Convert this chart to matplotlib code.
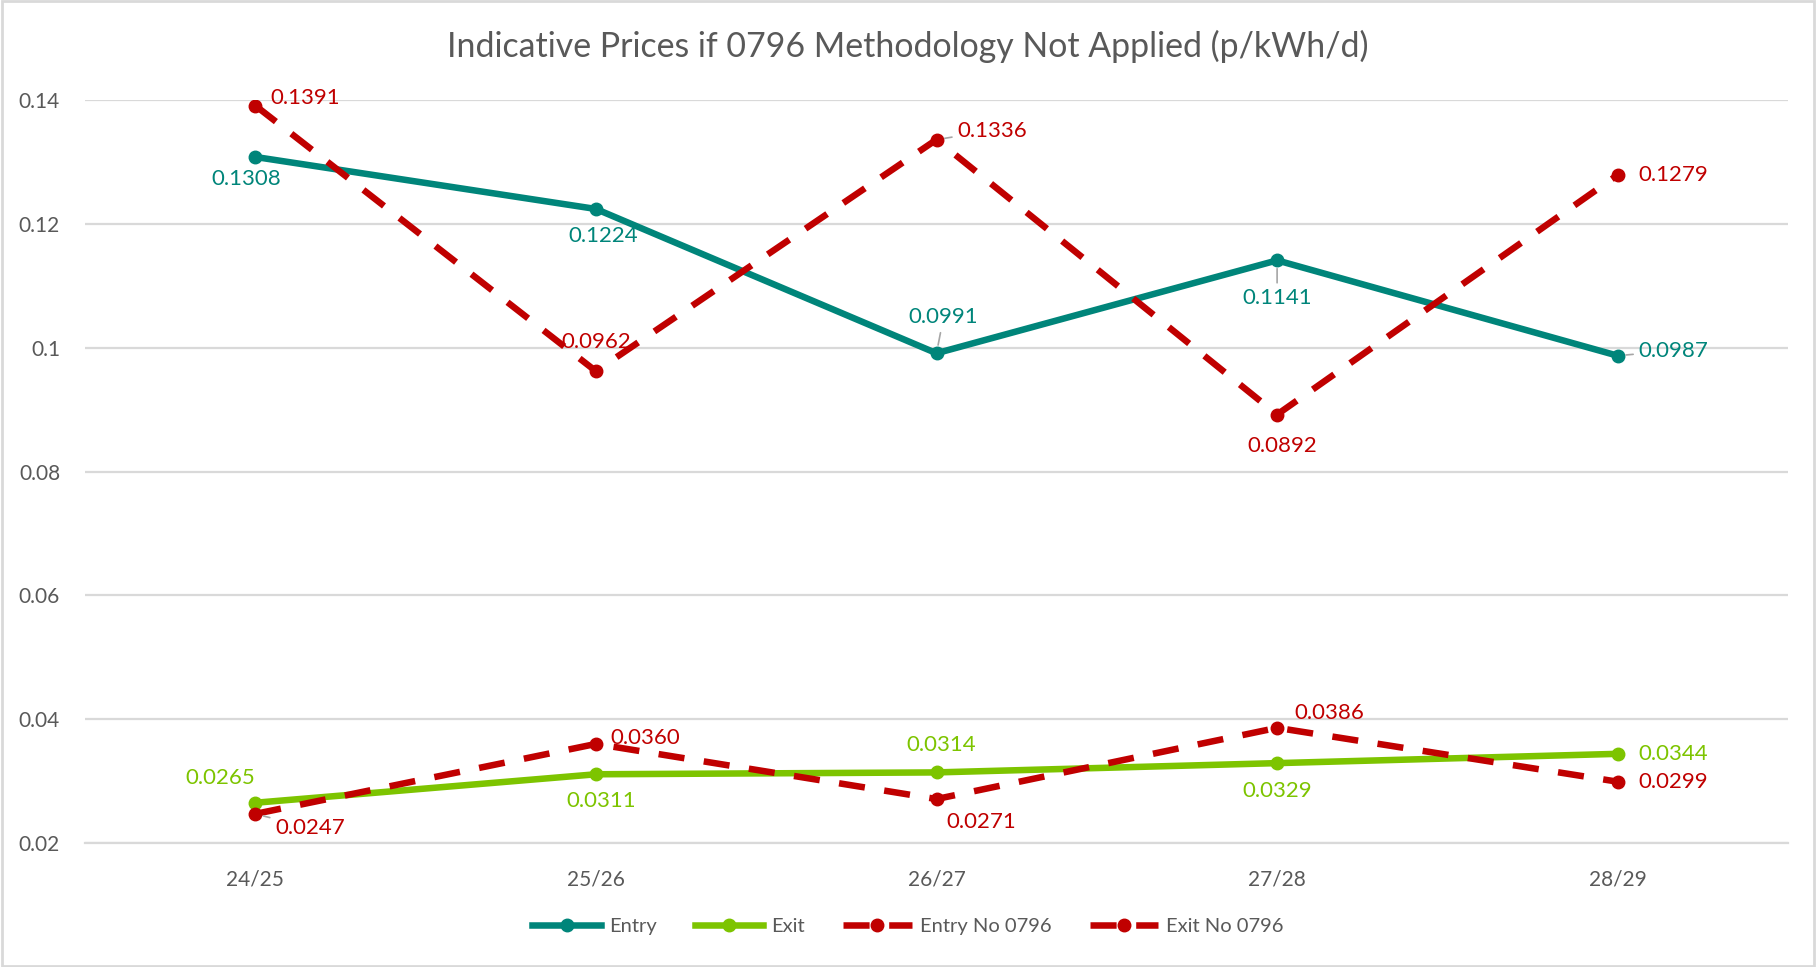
import matplotlib.pyplot as plt
from matplotlib.patches import Rectangle

# dados do gráfico
anos = ["24/25", "25/26", "26/27", "27/28", "28/29"]
entry = [0.1308, 0.1224, 0.0991, 0.1141, 0.0987]
exit_ = [0.0265, 0.0311, 0.0314, 0.0329, 0.0344]
entry_no = [0.1391, 0.0962, 0.1336, 0.0892, 0.1279]
exit_no = [0.0247, 0.0360, 0.0271, 0.0386, 0.0299]

TEAL = "#00857A"
LIME = "#7DC400"
RED = "#C00000"
GRAY = "#595959"
GRID = "#D9D9D9"

plt.rcParams["font.family"] = ["Lato", "DejaVu Sans"]

fig = plt.figure(figsize=(18.16, 9.67), dpi=100)
ax = fig.add_axes([85 / 1816, 1 - 843 / 967, (1788 - 85) / 1816, (843 - 100) / 967])

x = list(range(len(anos)))
ax.plot(x, entry, color=TEAL, lw=4.7, marker="o", ms=9, label="Entry", zorder=3)
ax.plot(x, exit_, color=LIME, lw=4.7, marker="o", ms=9, label="Exit", zorder=3)
ax.plot(x, entry_no, color=RED, lw=4.7, marker="o", ms=9, dashes=(4, 3),
        label="Entry No 0796", zorder=4)
ax.plot(x, exit_no, color=RED, lw=4.7, marker="o", ms=9, dashes=(4, 3),
        label="Exit No 0796", zorder=4)

ax.set_xlim(-0.5, 4.5)
ax.set_ylim(0.02, 0.14)
ax.set_yticks([0.02, 0.04, 0.06, 0.08, 0.1, 0.12, 0.14])
ax.set_yticklabels(["0.02", "0.04", "0.06", "0.08", "0.1", "0.12", "0.14"])
ax.set_xticks(x)
ax.set_xticklabels(anos)
ax.tick_params(axis="both", length=0, labelsize=15, colors=GRAY)
ax.tick_params(axis="y", pad=18)
ax.tick_params(axis="x", pad=19)
ax.grid(axis="y", color=GRID, lw=1.6, zorder=0)
for s in ["top", "right", "left"]:
    ax.spines[s].set_visible(False)
ax.spines["bottom"].set_color(GRID)
ax.spines["bottom"].set_linewidth(1.6)

# rótulos de dados: (deslocamento x, deslocamento y em pixels, alinhamento, linha guia)
def rotular(vals, cor, offs):
    for i, v in enumerate(vals):
        dx, dy, ha, guia = offs[i]
        kw = {}
        if guia:
            kw["arrowprops"] = dict(arrowstyle="-", color="#A6A6A6", lw=1.2,
                                    shrinkA=2, shrinkB=6)
        ax.annotate(f"{v:.4f}", (i, v), xytext=(dx, dy), textcoords="offset pixels",
                    ha=ha, va="center", color=cor, fontsize=16, zorder=5, **kw)

rotular(entry, TEAL, [(-9, -22, "center", False), (7, -27, "center", False),
                      (7, 36, "center", True), (0, -38, "center", True),
                      (21, 5, "left", True)])
rotular(exit_, LIME, [(-35, 25, "center", False), (5, -27, "center", False),
                      (5, 27, "center", False), (0, -28, "center", False),
                      (21, 0, "left", False)])
rotular(entry_no, RED, [(15, 8, "left", False), (0, 29, "center", False),
                        (21, 9, "left", True), (5, -31, "center", False),
                        (21, 0, "left", False)])
rotular(exit_no, RED, [(20, -14, "left", True), (14, 6, "left", False),
                       (10, -23, "left", False), (17, 15, "left", False),
                       (21, 0, "left", False)])

fig.text(0.5, 1 - 46 / 967, "Indicative Prices if 0796 Methodology Not Applied (p/kWh/d)",
         ha="center", va="center", fontsize=24.4, color=GRAY)

fig.legend(loc="center", bbox_to_anchor=(0.5, 1 - 926 / 967), ncol=4, frameon=False,
           fontsize=14.5, labelcolor=GRAY, handlelength=3.4, columnspacing=1.9,
           handletextpad=0.4)

# borda da área do gráfico
fig.add_artist(Rectangle((0.001, 0.001), 0.998, 0.998, transform=fig.transFigure,
                         fill=False, edgecolor=GRID, lw=2))

fig.savefig("out.png", dpi=100, facecolor="white")
